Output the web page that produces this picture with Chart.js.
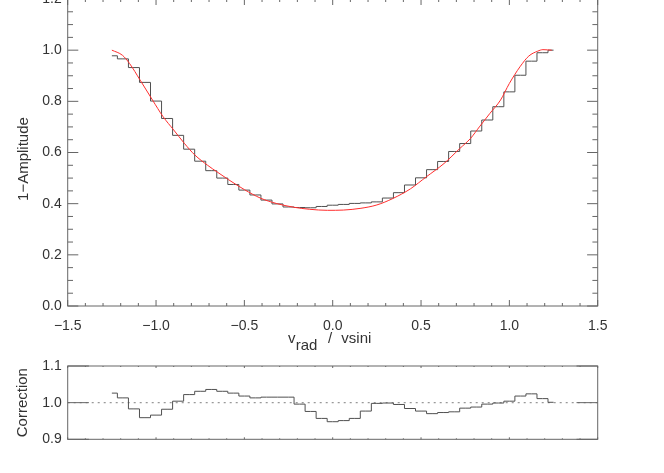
<!DOCTYPE html>
<html>
<head>
<meta charset="utf-8">
<script src="https://cdn.jsdelivr.net/npm/chart.js@4"></script>
<style>
    html, body { margin: 0; padding: 0; background: #fff; overflow: hidden; }
    body { width: 664px; height: 473px; position: relative; }
    canvas { position: absolute; left: 0; }
    #profileChart { top: -20px; }
    #correctionChart { top: 340px; }
</style>
</head>
<body>
<canvas id="profileChart" width="664" height="380"></canvas>
<canvas id="correctionChart" width="664" height="133"></canvas>
<script>
const profileDiv = document.getElementById("profileChart")
const correctionDiv = document.getElementById("correctionChart")

// bin centres in v_rad / vsini
const binCentres = [
    -1.25, -1.1875, -1.125, -1.0625, -1.0, -0.9375, -0.875, -0.8125, -0.75, -0.6875,
    -0.625, -0.5625, -0.5, -0.4375, -0.375, -0.3125, -0.25, -0.1875, -0.125, -0.0625,
    0.0, 0.0625, 0.125, 0.1875, 0.25, 0.3125, 0.375, 0.4375, 0.5, 0.5625,
    0.625, 0.6875, 0.75, 0.8125, 0.875, 0.9375, 1.0, 1.0625, 1.125, 1.1875, 1.25
]
// measured 1-Amplitude (histogram)
const profile = [
    0.978, 0.966, 0.932, 0.874, 0.801, 0.733, 0.667, 0.613, 0.566, 0.529,
    0.500, 0.475, 0.453, 0.434, 0.414, 0.399, 0.387, 0.385, 0.384, 0.389,
    0.394, 0.397, 0.401, 0.403, 0.407, 0.422, 0.443, 0.473, 0.501, 0.533,
    0.565, 0.604, 0.635, 0.684, 0.727, 0.779, 0.837, 0.902, 0.957, 0.990, 1.000
]
// correction factor per bin
const correction = [
    1.026, 1.013, 0.983, 0.959, 0.966, 0.982, 1.004, 1.022, 1.031, 1.036,
    1.031, 1.026, 1.018, 1.013, 1.015, 1.015, 1.015, 0.996, 0.976, 0.957,
    0.948, 0.951, 0.957, 0.977, 0.998, 0.999, 0.995, 0.984, 0.977, 0.970,
    0.973, 0.975, 0.985, 0.988, 0.996, 0.999, 1.004, 1.018, 1.024, 1.011, 1.001
]
// model fit (red curve)
const fitX = [
    -1.25, -1.19, -1.15, -1.09, -1.02, -0.96, -0.90, -0.84, -0.78, -0.71,
    -0.65, -0.59, -0.50, -0.41, -0.32, -0.22, -0.13, -0.03, 0.06, 0.16,
    0.25, 0.34, 0.44, 0.53, 0.63, 0.72, 0.78, 0.83, 0.89, 0.95,
    1.00, 1.06, 1.11, 1.16, 1.19, 1.24
]
const fitY = [
    1.0, 0.98, 0.948, 0.883, 0.805, 0.74, 0.688, 0.636, 0.59, 0.551,
    0.522, 0.494, 0.455, 0.422, 0.401, 0.386, 0.378, 0.374, 0.375, 0.382,
    0.395, 0.42, 0.458, 0.505, 0.557, 0.616, 0.655, 0.7, 0.753, 0.805,
    0.87, 0.935, 0.977, 0.996, 1.002, 1.0
]
const unityX = [-1.5, 1.5]
const unityY = [1.0, 1.0]

const xTicks = v => v.toFixed(1).replace("-", "\u2212")

Chart.defaults.font.family = "'Liberation Sans', Arial, sans-serif"
Chart.defaults.font.size = 14
Chart.defaults.color = "#333"

// IDL style box with inward ticks, plus axis titles
const idlAxes = {
    id: "idlAxes",
    afterDatasetsDraw(chart, args, o) {
        const { ctx, chartArea: a } = chart
        const x = chart.scales.x
        const y = chart.scales.y
        ctx.save()
        ctx.strokeStyle = "#666"
        ctx.lineWidth = 1
        ctx.strokeRect(a.left, a.top, a.right - a.left, a.bottom - a.top)
        ctx.beginPath()
        const nx = Math.round((x.max - x.min) / o.xMinor)
        for (let k = 0; k <= nx; k++) {
            const v = x.min + k * o.xMinor
            const px = x.getPixelForValue(v)
            const r = v / o.xMajor
            const len = Math.abs(r - Math.round(r)) < 1e-6 ? o.xLen : o.xLen / 2
            ctx.moveTo(px, a.bottom); ctx.lineTo(px, a.bottom - len)
            ctx.moveTo(px, a.top); ctx.lineTo(px, a.top + len)
        }
        const ny = Math.round((y.max - y.min) / o.yMinor)
        for (let k = 0; k <= ny; k++) {
            const v = y.min + k * o.yMinor
            const py = y.getPixelForValue(v)
            const r = v / o.yMajor
            const len = Math.abs(r - Math.round(r)) < 1e-6 ? o.yLen : o.yLen / 2
            ctx.moveTo(a.left, py); ctx.lineTo(a.left + len, py)
            ctx.moveTo(a.right, py); ctx.lineTo(a.right - len, py)
        }
        ctx.stroke()

        ctx.fillStyle = "#333"
        ctx.font = "15px 'Liberation Sans', Arial, sans-serif"
        ctx.save()
        ctx.translate(o.yTitleX, (a.top + a.bottom) / 2 + o.yTitleDy)
        ctx.rotate(-Math.PI / 2)
        ctx.textAlign = "center"
        ctx.textBaseline = "middle"
        ctx.fillText(o.yTitle, 0, 0)
        ctx.restore()

        if (o.xTitle) {
            const cx = (a.left + a.right) / 2
            const base = a.bottom + 36.5
            ctx.textAlign = "left"
            ctx.textBaseline = "alphabetic"
            ctx.fillText("v", cx - 44.6, base)
            ctx.fillText("rad", cx - 37, base + 7.6)
            ctx.fillText("/", cx - 4.6, base)
            ctx.fillText("vsini", cx + 8.6, base)
        }
        ctx.restore()
    }
}

new Chart(profileDiv, {
    type: "line",
    data: {
        datasets: [
            {
                label: "fit",
                data: fitX.map((x, i) => ({ x: x, y: fitY[i] })),
                borderColor: "rgb(255, 45, 45)",
                borderWidth: 1,
                pointRadius: 0,
                cubicInterpolationMode: "monotone",
                fill: false
            },
            {
                label: "profile",
                data: binCentres.map((x, i) => ({ x: x, y: profile[i] })),
                borderColor: "#505050",
                borderWidth: 1,
                pointRadius: 0,
                stepped: "middle",
                fill: false
            }
        ]
    },
    options: {
        responsive: false,
        animation: false,
        events: [],
        layout: { padding: { top: 19, right: 66.3, left: 0, bottom: 0 } },
        plugins: {
            legend: { display: false },
            tooltip: { enabled: false },
            idlAxes: {
                xMinor: 0.1, xMajor: 0.5, xLen: 6,
                yMinor: 0.05, yMajor: 0.2, yLen: 10.6,
                yTitle: "1\u2212Amplitude", yTitleX: 23.5, yTitleDy: 6.5,
                xTitle: true
            }
        },
        scales: {
            x: {
                type: "linear",
                min: -1.5,
                max: 1.5,
                grid: { display: false, drawTicks: false },
                border: { display: false },
                ticks: { stepSize: 0.5, padding: 12, maxRotation: 0, callback: xTicks },
                afterFit: s => { s.height = 54 }
            },
            y: {
                min: 0,
                max: 1.2,
                grid: { display: false, drawTicks: false },
                border: { display: false },
                ticks: { stepSize: 0.2, padding: 6, callback: v => v.toFixed(1) },
                afterFit: s => { s.width = 67.7 }
            }
        }
    },
    plugins: [idlAxes]
});

new Chart(correctionDiv, {
    type: "line",
    data: {
        datasets: [
            {
                label: "correction",
                data: binCentres.map((x, i) => ({ x: x, y: correction[i] })),
                borderColor: "#505050",
                borderWidth: 1,
                pointRadius: 0,
                stepped: "middle",
                fill: false
            },
            {
                label: "unity",
                data: unityX.map((x, i) => ({ x: x, y: unityY[i] })),
                borderColor: "#999",
                borderWidth: 1.2,
                borderDash: [2, 4],
                pointRadius: 0,
                fill: false
            }
        ]
    },
    options: {
        responsive: false,
        animation: false,
        events: [],
        layout: { padding: { top: 26, right: 66.3, left: 0, bottom: 0 } },
        plugins: {
            legend: { display: false },
            tooltip: { enabled: false },
            idlAxes: {
                xMinor: 0.1, xMajor: 0.5, xLen: 2,
                yMinor: 0.1, yMajor: 0.1, yLen: 10.6 * 2,
                yTitle: "Correction", yTitleX: 22.5, yTitleDy: 0
            }
        },
        scales: {
            x: {
                type: "linear",
                min: -1.5,
                max: 1.5,
                grid: { display: false, drawTicks: false },
                border: { display: false },
                ticks: { display: false, stepSize: 0.5 },
                afterFit: s => { s.height = 33.7 }
            },
            y: {
                min: 0.9,
                max: 1.1,
                grid: { display: false, drawTicks: false },
                border: { display: false },
                ticks: { stepSize: 0.1, padding: 6, callback: v => v.toFixed(1) },
                afterFit: s => { s.width = 67.7 }
            }
        }
    },
    plugins: [idlAxes]
});
</script>
</body>
</html>
